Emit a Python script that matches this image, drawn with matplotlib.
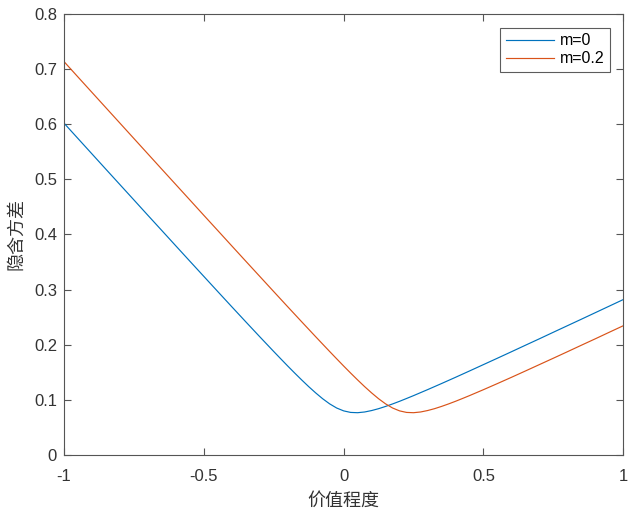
import matplotlib
matplotlib.use("Agg")
import matplotlib.pyplot as plt

# x positions (value degree) and implied variance
x_m0 = [-1.0, -0.95, -0.9, -0.85, -0.8, -0.75, -0.7, -0.65, -0.6, -0.55, -0.5,
        -0.45, -0.4, -0.35, -0.3, -0.275, -0.25, -0.225, -0.2, -0.175, -0.15,
        -0.125, -0.1, -0.075, -0.05, -0.025, 0.0, 0.025, 0.05, 0.075, 0.1,
        0.125, 0.15, 0.175, 0.2, 0.225, 0.25, 0.275, 0.3, 0.35, 0.4, 0.45,
        0.5, 0.55, 0.6, 0.65, 0.7, 0.75, 0.8, 0.85, 0.9, 0.95, 1.0]
y_m0 = [0.6020, 0.5741, 0.5462, 0.5183, 0.4905, 0.4627, 0.4348, 0.4071, 0.3793,
        0.3516, 0.3240, 0.2964, 0.2689, 0.2416, 0.2145, 0.2011, 0.1877, 0.1745,
        0.1614, 0.1486, 0.1361, 0.1240, 0.1126, 0.1020, 0.0927, 0.0852, 0.0800,
        0.0772, 0.0767, 0.0780, 0.0806, 0.0840, 0.0881, 0.0926, 0.0974, 0.1025,
        0.1077, 0.1131, 0.1185, 0.1296, 0.1409, 0.1524, 0.1640, 0.1756, 0.1873,
        0.1991, 0.2108, 0.2227, 0.2345, 0.2463, 0.2582, 0.2701, 0.2820]

x_m02 = [-1.0, -0.95, -0.9, -0.85, -0.8, -0.75, -0.7, -0.65, -0.6, -0.55, -0.5,
         -0.45, -0.4, -0.35, -0.3, -0.25, -0.2, -0.15, -0.1, -0.075, -0.05,
         -0.025, 0.0, 0.025, 0.05, 0.075, 0.1, 0.125, 0.15, 0.175, 0.2, 0.225,
         0.25, 0.275, 0.3, 0.325, 0.35, 0.375, 0.4, 0.425, 0.45, 0.475, 0.5,
         0.55, 0.6, 0.65, 0.7, 0.75, 0.8, 0.85, 0.9, 0.95, 1.0]
y_m02 = [0.7137, 0.6857, 0.6578, 0.6299, 0.6020, 0.5741, 0.5462, 0.5183, 0.4905,
         0.4627, 0.4348, 0.4071, 0.3793, 0.3516, 0.3240, 0.2964, 0.2689, 0.2416,
         0.2145, 0.2011, 0.1877, 0.1745, 0.1614, 0.1486, 0.1361, 0.1240, 0.1126,
         0.1020, 0.0927, 0.0852, 0.0800, 0.0772, 0.0767, 0.0780, 0.0806, 0.0840,
         0.0881, 0.0926, 0.0974, 0.1025, 0.1077, 0.1131, 0.1185, 0.1296, 0.1409,
         0.1524, 0.1640, 0.1756, 0.1873, 0.1991, 0.2108, 0.2227, 0.2345]

series_labels = ["m=0", "m=0.2"]
x_ticks = [-1, -0.5, 0, 0.5, 1]
x_tick_labels = ["-1", "-0.5", "0", "0.5", "1"]
y_ticks = [0, 0.1, 0.2, 0.3, 0.4, 0.5, 0.6, 0.7, 0.8]
y_tick_labels = ["0", "0.1", "0.2", "0.3", "0.4", "0.5", "0.6", "0.7", "0.8"]
x_label = "价值程度"
y_label = "隐含方差"

plt.rcParams['font.family'] = ['Liberation Sans', 'DejaVu Sans']

fig = plt.figure(figsize=(6.33, 5.13), dpi=100)
ax = fig.add_axes([0.1011, 0.1131, 0.8836, 0.8596])

ax.plot(x_m0, y_m0, color="#0072BD", lw=0.85, label=series_labels[0])
ax.plot(x_m02, y_m02, color="#D95319", lw=0.85, label=series_labels[1])

ax.set_xlim(-1, 1)
ax.set_ylim(0, 0.8)
ax.set_xticks(x_ticks)
ax.set_xticklabels(x_tick_labels)
ax.set_yticks(y_ticks)
ax.set_yticklabels(y_tick_labels)

axcol = "#333333"
for s in ax.spines.values():
    s.set_color("#555555")
    s.set_linewidth(0.8)
ax.tick_params(direction="in", length=5, width=0.8, colors="#555555",
               labelsize=12, top=True, right=True, labelcolor=axcol)
ax.tick_params(axis="x", pad=10)
ax.tick_params(axis="y", pad=5)

cjk = ['Noto Sans CJK SC', 'DejaVu Sans']
ax.set_xlabel(x_label, family=cjk, fontsize=13, color=axcol, labelpad=6)
ax.set_ylabel(y_label, family=cjk, fontsize=13, color=axcol, labelpad=6)

leg = ax.legend(loc="upper right", fontsize=11.5, frameon=True, fancybox=False,
                handlelength=3.0, handletextpad=0.35, borderpad=0.35,
                labelspacing=0.2, borderaxespad=0.85)
leg.get_frame().set_edgecolor(axcol)
leg.get_frame().set_linewidth(0.8)

fig.savefig("out.png", dpi=100)
